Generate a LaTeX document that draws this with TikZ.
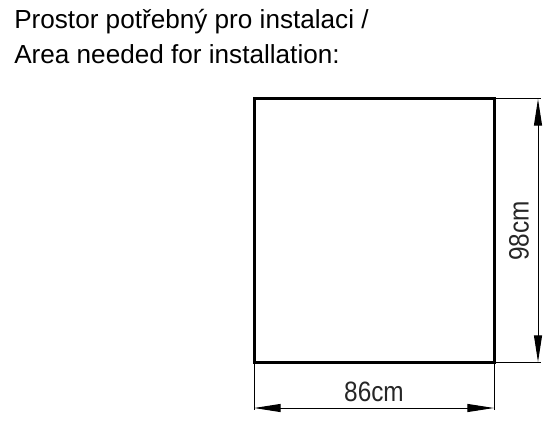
\documentclass[tikz,border=0pt]{standalone}
\usepackage{fontspec}
\setmainfont{Liberation Sans}
\usetikzlibrary{arrows.meta}
\begin{document}
\begin{tikzpicture}[x=0.75pt,y=-0.75pt,
  outline/.style={line width=2.25pt, line join=miter},
  thin/.style={line width=0.75pt},
  dimline/.style={line width=0.75pt, {Triangle[length=20pt,width=6pt]}-{Triangle[length=20pt,width=6pt]}},
  title/.style={anchor=base west, inner sep=0pt, font=\fontsize{19.6pt}{22pt}\selectfont},
  dimtext/.style={inner sep=0pt, text=black!85, font=\fontsize{21pt}{24pt}\selectfont}]
\useasboundingbox[fill=white] (0,0) rectangle (556,427);
\node[title] (t1) at (14,29) {Prostor potřebný pro instalaci /};
\node[title] (t2) at (14,64) {Area needed for installation:};
\coordinate (tl) at (254,99);
\coordinate (br) at (494,362);
\coordinate (tr) at (494,99);
\coordinate (bl) at (254,362);
\draw[outline] (tl) rectangle (br);
% extension lines
\coordinate (er1) at (541,99);
\coordinate (er2) at (541,362);
\coordinate (eb1) at (254,410);
\coordinate (eb2) at (494,410);
\draw[thin] (tr) -- (er1);
\draw[thin] (br) -- (er2);
\draw[thin] (bl) -- (eb1);
\draw[thin] (br) -- (eb2);
% dimension lines
\coordinate (dv1) at (538,99);
\coordinate (dv2) at (538,362);
\coordinate (dh1) at (254,408);
\coordinate (dh2) at (494,408);
\draw[dimline] (dv1) -- (dv2);
\draw[dimline] (dh1) -- (dh2);
\node[dimtext, rotate=90] (w) at (519,231) {\scalebox{0.87}[1]{98cm}};
\node[dimtext] (h) at (374,392) {\scalebox{0.87}[1]{86cm}};
\end{tikzpicture}
\end{document}
